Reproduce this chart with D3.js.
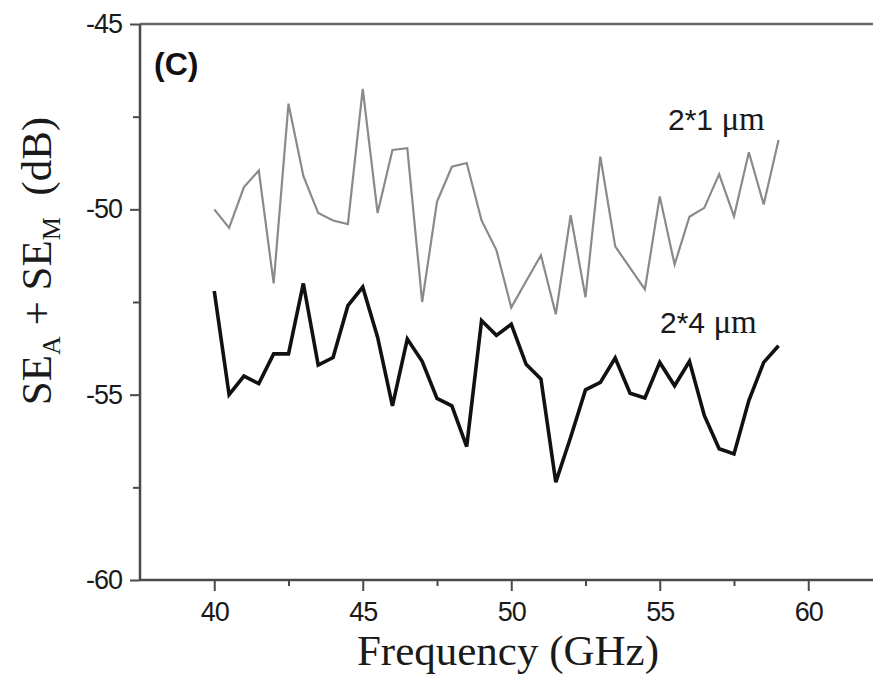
<!DOCTYPE html>
<html>
<head>
<meta charset="utf-8">
<script src="https://cdn.jsdelivr.net/npm/d3@7"></script>
<style>
  html, body { margin: 0; padding: 0; background: #fff; }
  svg { display: block; }
</style>
</head>
<body>
<svg id="chart" width="873" height="675"></svg>
<script>
// ---- data ----
const frequencies = [40, 40.5, 41, 41.5, 42, 42.5, 43, 43.5, 44, 44.5, 45, 45.5, 46, 46.5, 47, 47.5, 48, 48.5, 49, 49.5,
                     50, 50.5, 51, 51.5, 52, 52.5, 53, 53.5, 54, 54.5, 55, 55.5, 56, 56.5, 57, 57.5, 58, 58.5, 59];
const se_2x1 = [-50.0, -50.5, -49.4, -48.95, -52.0, -47.15, -49.1, -50.1, -50.3, -50.4, -46.75, -50.1, -48.4, -48.35, -52.5, -49.8, -48.85, -48.75, -50.3, -51.1,
                -52.65, -51.94, -51.24, -52.83, -50.16, -52.37, -48.58, -51.0, -51.58, -52.16, -49.65, -51.49, -50.2, -49.96, -49.05, -50.19, -48.46, -49.87, -48.13];
const se_2x4 = [-52.2, -55.0, -54.5, -54.7, -53.9, -53.9, -52.0, -54.2, -54.0, -52.6, -52.1, -53.45, -55.3, -53.5, -54.1, -55.1, -55.3, -56.4, -53.0, -53.4,
                -53.1, -54.18, -54.58, -57.36, -56.15, -54.87, -54.67, -54.01, -54.96, -55.09, -54.13, -54.76, -54.1, -55.56, -56.46, -56.6, -55.16, -54.13, -53.68];
const xTicks = [40, 45, 50, 55, 60];
const xMinorTicks = [42.5, 47.5, 52.5, 57.5];
const yTicks = [-45, -50, -55, -60];
const yMinorTicks = [-47.5, -52.5, -57.5];
const seriesLabels = ["2*1", "2*4"];

// ---- layout ----
const svg = d3.select("#chart");
const x = d3.scaleLinear().domain([37.5, 62.5]).range([140, 882.5]);
const y = d3.scaleLinear().domain([-60, -45]).range([580, 24]);
const axisColor = "#4a4a4a";
const tickFont = "'Liberation Sans', Arial, sans-serif";
const serifFont = "'Liberation Serif', 'Times New Roman', serif";
const plainFormat = d => String(d);

// top frame line
svg.append("line")
  .attr("x1", x(37.5)).attr("x2", 873)
  .attr("y1", y(-45)).attr("y2", y(-45))
  .attr("stroke", "#666").attr("stroke-width", 2.5);

// x axis
const xAxis = svg.append("g").attr("transform", `translate(0,${y(-60)})`)
  .call(d3.axisBottom(x).tickValues(xTicks).tickSize(11).tickPadding(11).tickFormat(plainFormat));
svg.append("g").attr("transform", `translate(0,${y(-60)})`)
  .call(d3.axisBottom(x).tickValues(xMinorTicks).tickSize(6).tickFormat(""))
  .select(".domain").remove();

// y axis
const yAxis = svg.append("g").attr("transform", `translate(${x(37.5)},0)`)
  .call(d3.axisLeft(y).tickValues(yTicks).tickSize(10).tickPadding(8).tickFormat(plainFormat));
svg.append("g").attr("transform", `translate(${x(37.5)},0)`)
  .call(d3.axisLeft(y).tickValues(yMinorTicks).tickSize(7).tickFormat(""))
  .select(".domain").remove();

svg.selectAll(".domain").attr("stroke", axisColor).attr("stroke-width", 2.5);
svg.selectAll(".tick line").attr("stroke", axisColor).attr("stroke-width", 2);
svg.selectAll(".tick text")
  .attr("font-family", tickFont).attr("font-size", 27).attr("fill", "#1a1a1a")
  .attr("letter-spacing", -1);

// extend x domain path to right edge
xAxis.select(".domain").attr("d", `M${x(37.5)},0H${873}`);
yAxis.select(".domain").attr("d", `M0,${y(-45)}V${y(-60)}`);

// ---- lines ----
const line = d3.line().x((d, i) => x(frequencies[i])).y(d => y(d));

svg.append("path").datum(se_2x1)
  .attr("d", line).attr("fill", "none")
  .attr("stroke", "#8a8a8a").attr("stroke-width", 2.2).attr("stroke-linejoin", "miter");

svg.append("path").datum(se_2x4)
  .attr("d", line).attr("fill", "none")
  .attr("stroke", "#111").attr("stroke-width", 3.6).attr("stroke-linejoin", "miter");

// ---- annotations ----
svg.append("text").attr("x", 154).attr("y", 75)
  .attr("font-family", tickFont).attr("font-weight", "bold").attr("font-size", 32).attr("fill", "#111")
  .text("(C)");

function seriesLabel(lbl, xpos, ypos) {
  const t = svg.append("text").attr("x", xpos).attr("y", ypos).attr("fill", "#1a1a1a");
  t.append("tspan").attr("font-family", tickFont).attr("font-size", 30).text(lbl + " ");
  t.append("tspan").attr("font-family", serifFont).attr("font-size", 33).text("μm");
}
seriesLabel(seriesLabels[0], 668, 130);
seriesLabel(seriesLabels[1], 660, 333);

// x title
svg.append("text").attr("x", 508).attr("y", 665)
  .attr("text-anchor", "middle")
  .attr("font-family", serifFont).attr("font-size", 43).attr("fill", "#1a1a1a")
  .text("Frequency (GHz)");

// y title
const yt = svg.append("text")
  .attr("transform", "translate(51,261) rotate(-90)")
  .attr("text-anchor", "middle")
  .attr("font-family", serifFont).attr("font-size", 43).attr("fill", "#1a1a1a");
yt.append("tspan").text("SE");
yt.append("tspan").attr("font-size", 26).attr("dy", 9).text("A");
yt.append("tspan").attr("dy", -9).text(" + SE");
yt.append("tspan").attr("font-size", 26).attr("dy", 9).text("M");
yt.append("tspan").attr("dy", -9).text("\u00a0\u00a0(dB)");
</script>
</body>
</html>
